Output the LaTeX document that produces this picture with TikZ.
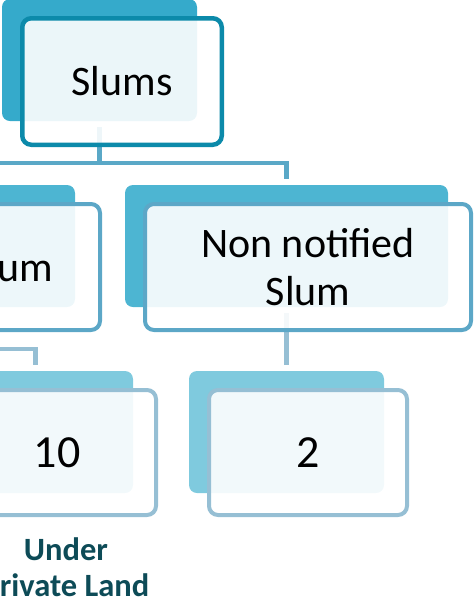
\documentclass[tikz,border=0pt]{standalone}
\usepackage{fontspec}
\setmainfont{Carlito}
\usetikzlibrary{calc}
\definecolor{topback}{HTML}{35AACB}
\definecolor{topline}{HTML}{0C8AAA}
\definecolor{topconn}{HTML}{5AA8C7}
\definecolor{midback}{HTML}{4DB5D2}
\definecolor{midline}{HTML}{5CA7C7}
\definecolor{lowback}{HTML}{7FCADE}
\definecolor{lowline}{HTML}{96BFD4}
\definecolor{labelink}{HTML}{0D4B57}
\begin{document}
\begin{tikzpicture}[x=1pt,y=-1pt,
  backbox/.style={rectangle, rounded corners=8pt, inner sep=0pt, draw=none},
  frontbox/.style={rectangle, rounded corners=9pt, inner sep=0pt,
    fill=white, fill opacity=0.9, text opacity=1, align=center,
    font=\fontsize{42}{48}\selectfont},
  topsize/.style={minimum width=195pt, minimum height=122pt},
  midsize/.style={minimum width=323pt, minimum height=122pt},
  lowsize/.style={minimum width=195pt, minimum height=122pt},
  conn/.style={line width=4.5pt},
  notelabel/.style={font=\fontsize{32.5}{36}\selectfont\bfseries, text=labelink,
    align=center, inner sep=0pt}
]
\useasboundingbox (0,0) rectangle (475,606);
\clip (0,0) rectangle (475,606);

% back plates
\node[backbox, topsize, fill=topback] (slumsB) at (99.5,60) {};
\node[backbox, midsize, fill=midback] (notB) at (-86.5,246) {};
\node[backbox, midsize, fill=midback] (nonB) at (286.5,246) {};
\node[backbox, lowsize, fill=lowback] (tenB) at (35.5,432) {};
\node[backbox, lowsize, fill=lowback] (twoB) at (286.5,432) {};

% connectors
\draw[conn, draw=topconn] ($(slumsB.south)+(0,6)$) -- ++(0,36) coordinate (hub);
\draw[conn, draw=topconn] ($(notB.north)+(0,-6)$) |- (hub) -| ($(nonB.north)+(0,-6)$);
\draw[conn, draw=lowline] ($(notB.south)+(0,6)$) |- ($(tenB.north)+(0,-22)$) -- ($(tenB.north)+(0,-6)$);
\draw[conn, draw=lowline] ($(nonB.south)+(0,6)$) -- ($(twoB.north)+(0,-6)$);

% front boxes
\node[frontbox, draw=topline, line width=4.5pt, minimum width=199.5pt, minimum height=126.5pt] (slums) at (122,81.5) {Slums};
\node[frontbox, draw=midline, line width=4pt, minimum width=326pt, minimum height=126pt] (notified) at (-63,267) {Notified Slum};
\node[frontbox, draw=midline, line width=4pt, minimum width=326pt, minimum height=126pt] (nonnotified) at (308,267) {Non notified\\Slum};
\node[frontbox, draw=lowline, line width=4pt, minimum width=198pt, minimum height=125pt, font=\fontsize{46}{52}\selectfont] (ten) at (57,452.5) {10};
\node[frontbox, draw=lowline, line width=4pt, minimum width=198pt, minimum height=125pt, font=\fontsize{46}{52}\selectfont] (two) at (308,452.5) {2};

% caption under the left count
\node[notelabel, anchor=north] (under) at (66,537) {Under\\Private Land};
\end{tikzpicture}
\end{document}
